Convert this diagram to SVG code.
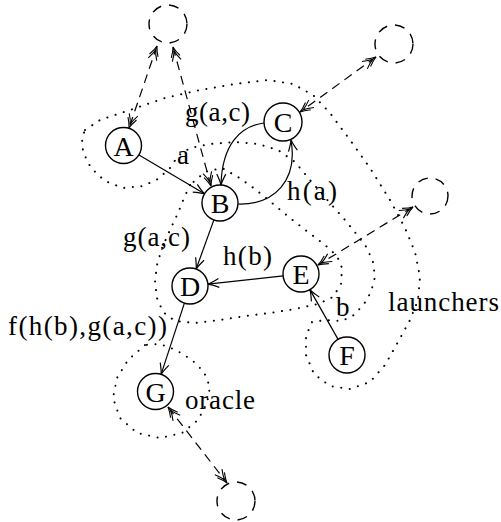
<svg xmlns="http://www.w3.org/2000/svg" width="501" height="522" viewBox="0 0 501 522">
  <defs>
    <style>
      .node { fill: #fff; stroke: #000; stroke-width: 1.4; }
      .ghost { fill: none; stroke: #000; stroke-width: 1.4; stroke-dasharray: 10 8; }
      .edge { fill: none; stroke: #000; stroke-width: 1.2; }
      .link { fill: none; stroke: #000; stroke-width: 1.2; stroke-dasharray: 9 6; }
      .zone { fill: none; stroke: #000; stroke-width: 2; stroke-dasharray: 0.1 8.5; stroke-linecap: round; stroke-linejoin: round; }
      .lbl { font-family: "Liberation Serif", "Times New Roman", serif; font-size: 27px; fill: #000; }
      .nl { font-family: "Liberation Serif", "Times New Roman", serif; font-size: 28px; fill: #000; text-anchor: middle; }
    </style>
    <marker id="tip" viewBox="-12 -6 14 12" refX="0" refY="0" markerWidth="14" markerHeight="12" orient="auto" markerUnits="userSpaceOnUse">
      <path d="M-11,-4.5 Q-4,-1 0,0 Q-4,1 -11,4.5" fill="none" stroke="#000" stroke-width="1.2"/>
    </marker>
    <marker id="tip2" viewBox="-16 -6 18 12" refX="0" refY="0" markerWidth="18" markerHeight="12" orient="auto-start-reverse" markerUnits="userSpaceOnUse">
      <path d="M-10,-4.5 Q-4,-1 0,0 Q-4,1 -10,4.5 M-14,-4.5 Q-8,-1 -4,0 Q-8,1 -14,4.5" fill="none" stroke="#000" stroke-width="1.1"/>
    </marker>
  </defs>

  <!-- dotted regions -->
  <g id="regions">
    <!-- launchers region: loops round A, C and F -->
    <path id="launchers-zone" class="zone" d="M85,130 L100,120 L130,110 L165,98 L200,90 L235,84 L268,80 L293,84 L313,95 L330,113 L350,140 L370,168 L390,200 L405,228 L415,252 L420,277 L418,300 L410,320 L398,342 L385,365 L370,382 L350,389 L330,386 L314,374 L306,355 L306,336 L312,322 L326,320 L342,321 L354,315 L364,304 L371,292 L375,277 L373,262 L367,248 L358,236 L345,220 L330,203 L310,180 L295,162 L278,150 L258,144 L235,142 L210,144 L190,148 L178,156 L170,168 L158,179 L143,186 L123,188 L105,181 L91,168 L83,152 L82,138 Z"/>
    <!-- region holding B, D and E -->
    <path id="bde-zone" class="zone" d="M190,185 L184,198 L178,213 L170,230 L162,248 L157,265 L155,282 L157,298 L163,312 L175,321 L195,323 L220,320 L245,316 L270,313 L295,309 L318,304 L333,297 L341,284 L342,268 L337,256 L325,245 L308,232 L290,218 L272,203 L255,189 L238,177 L222,168 L205,172 Z"/>
    <!-- oracle region round G -->
    <path id="oracle-zone" class="zone" d="M145,345 L128,360 L117,378 L113,398 L120,418 L137,433 L160,438 L182,433 L198,420 L207,403 L210,387 L204,372 L192,360 L176,350 L160,344 Z"/>
  </g>

  <!-- connectors -->
  <g id="connectors">
    <line class="edge" x1="139" y1="155" x2="204.5" y2="193.8" marker-end="url(#tip)"/>
    <path class="edge" d="M264,123 C240,126 222,145 221,185" marker-end="url(#tip)"/>
    <path class="edge" d="M238,204 C275,205 298,180 291,140" marker-end="url(#tip)"/>
    <line class="edge" x1="213.9" y1="219.9" x2="196.1" y2="269.1" marker-end="url(#tip)"/>
    <line class="edge" x1="283.1" y1="275.9" x2="207.9" y2="284.1" marker-end="url(#tip)"/>
    <line class="edge" x1="338.1" y1="339.4" x2="309.9" y2="289.6" marker-end="url(#tip)"/>
    <line class="edge" x1="184.4" y1="303.1" x2="161.1" y2="374.4" marker-end="url(#tip)"/>

    <line class="link" x1="157" y1="46" x2="129" y2="128" marker-start="url(#tip2)" marker-end="url(#tip2)"/>
    <line class="link" x1="173" y1="47" x2="211" y2="186" marker-start="url(#tip2)" marker-end="url(#tip2)"/>
    <line class="link" x1="376" y1="57" x2="300" y2="112" marker-start="url(#tip2)" marker-end="url(#tip2)"/>
    <line class="link" x1="413" y1="207" x2="318" y2="265" marker-start="url(#tip2)" marker-end="url(#tip2)"/>
    <line class="link" x1="168" y1="407" x2="227" y2="483" marker-start="url(#tip2)" marker-end="url(#tip2)"/>
  </g>

  <!-- connector labels -->
  <g id="labels">
    <text class="lbl" x="185" y="121" textLength="65">g(a,c)</text>
    <text class="lbl" x="177" y="164">a</text>
    <text class="lbl" x="287" y="200" textLength="50">h(a)</text>
    <text class="lbl" x="123" y="246" textLength="67">g(a,c)</text>
    <text class="lbl" x="223" y="265" textLength="49">h(b)</text>
    <text class="lbl" x="336" y="316">b</text>
    <text class="lbl" x="388" y="311" textLength="111">launchers</text>
    <text class="lbl" x="8" y="335" textLength="159">f(h(b),g(a,c))</text>
    <text class="lbl" x="185" y="409" textLength="70">oracle</text>
  </g>

  <!-- nodes -->
  <g id="node-A"><circle class="node" cx="123.5" cy="145.5" r="18"/><text class="nl" x="123.5" y="155.5">A</text></g>
  <g id="node-B"><circle class="node" cx="220" cy="203" r="18"/><text class="nl" x="220" y="213">B</text></g>
  <g id="node-C"><circle class="node" cx="283" cy="122" r="19"/><text class="nl" x="283" y="132">C</text></g>
  <g id="node-D"><circle class="node" cx="190" cy="286" r="18"/><text class="nl" x="190" y="296">D</text></g>
  <g id="node-E"><circle class="node" cx="301" cy="274" r="18"/><text class="nl" x="301" y="284">E</text></g>
  <g id="node-F"><circle class="node" cx="347" cy="355" r="18"/><text class="nl" x="347" y="365">F</text></g>
  <g id="node-G"><circle class="node" cx="155.5" cy="391.5" r="18"/><text class="nl" x="155.5" y="401.5">G</text></g>

  <!-- remote sites -->
  <g id="site-top"><circle class="ghost" cx="168" cy="24" r="19"/></g>
  <g id="site-topright"><circle class="ghost" cx="394" cy="44" r="19"/></g>
  <g id="site-right"><circle class="ghost" cx="430" cy="196" r="18"/></g>
  <g id="site-bottom"><circle class="ghost" cx="236" cy="501" r="19"/></g>
</svg>
